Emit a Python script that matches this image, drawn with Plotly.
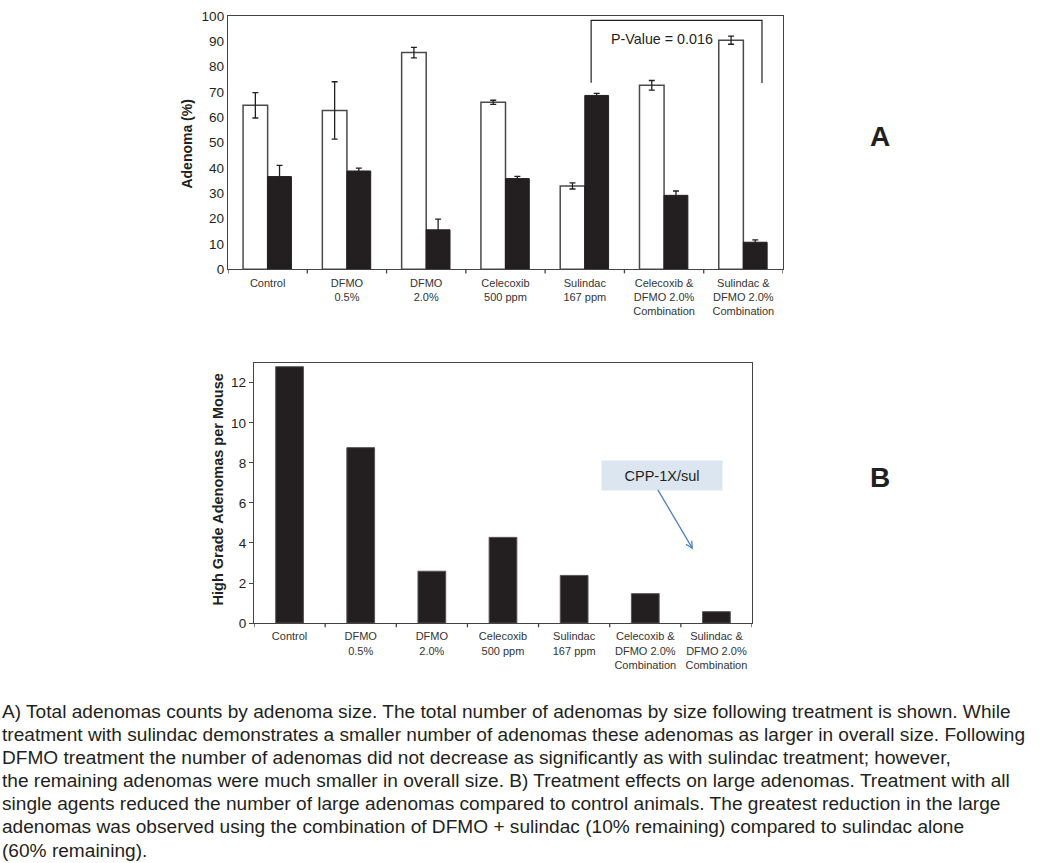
import plotly.graph_objects as go

# ---------------- data ----------------
categories = ["Control", "DFMO<br>0.5%", "DFMO<br>2.0%", "Celecoxib<br>500 ppm",
              "Sulindac<br>167 ppm", "Celecoxib &<br>DFMO 2.0%<br>Combination",
              "Sulindac &<br>DFMO 2.0%<br>Combination"]
cat_ids = list(range(len(categories)))

# Panel A: adenoma (%) by size (white / black series) with error bars
white_vals = [64.7, 62.7, 85.5, 65.9, 32.9, 72.6, 90.4]
white_err = [5.0, 11.3, 2.1, 0.8, 1.2, 1.9, 1.6]
black_vals = [36.6, 38.8, 15.6, 35.8, 68.6, 29.2, 10.7]
black_err = [4.4, 1.1, 4.2, 0.9, 0.8, 1.7, 0.9]

# Panel B: high grade adenomas per mouse
hg_vals = [12.8, 8.76, 2.59, 4.28, 2.38, 1.47, 0.57]

a_yticks = list(range(0, 101, 10))
b_yticks = list(range(0, 13, 2))

pvalue_text = "P-Value = 0.016"
bracket_left, bracket_right = 4.08, 6.235
bracket_top, bracket_left_bottom, bracket_right_bottom = 98.2, 73.6, 73.5

caption_lines = [
    "A) Total adenomas counts by adenoma size. The total number of adenomas by size following treatment is shown. While",
    "treatment with sulindac demonstrates a smaller number of adenomas these adenomas as larger in overall size. Following",
    "DFMO treatment the number of adenomas did not decrease as significantly as with sulindac treatment; however,",
    "the remaining adenomas were much smaller in overall size. B) Treatment effects on large adenomas. Treatment with all",
    "single agents reduced the number of large adenomas compared to control animals. The greatest reduction in the large",
    "adenomas was observed using the combination of DFMO + sulindac (10% remaining) compared to sulindac alone",
    "(60% remaining).",
]

# ---------------- layout helpers ----------------
W, H = 1048, 863
FONT = "Arial, 'Liberation Sans', Helvetica, sans-serif"
INK = "#231f20"
AXC = "#444444"


def px(x):
    return x / W


def py(y):
    return 1 - y / H


fig = go.Figure()

fig.add_trace(go.Bar(
    x=cat_ids, y=white_vals, width=0.31, offset=-0.31,
    marker=dict(color="white", line=dict(color="#4a4a4a", width=1.5)),
    error_y=dict(type="data", array=white_err, color=INK, thickness=1.3, width=3),
    xaxis="x", yaxis="y", showlegend=False,
))
fig.add_trace(go.Bar(
    x=cat_ids, y=black_vals, width=0.30, offset=0.0,
    marker=dict(color=INK, line=dict(color=INK, width=1)),
    error_y=dict(type="data", array=black_err, color=INK, thickness=1.3, width=3),
    xaxis="x", yaxis="y", showlegend=False,
))
fig.add_trace(go.Bar(
    x=cat_ids, y=hg_vals, width=0.39,
    marker=dict(color=INK, line=dict(color="#555555", width=1)),
    xaxis="x2", yaxis="y2", showlegend=False,
))

common_x = dict(
    tickmode="array", tickvals=cat_ids, ticktext=categories,
    range=[-0.5, 6.5], showgrid=False, zeroline=False,
    showline=True, linecolor=AXC, linewidth=1.3, mirror=True,
    ticks="outside", ticklen=3, tickcolor="rgba(0,0,0,0)",
    tickfont=dict(family=FONT, size=11, color="#333333"),
)

fig.update_layout(
    width=W, height=H, autosize=False,
    margin=dict(l=0, r=0, t=0, b=0),
    paper_bgcolor="white", plot_bgcolor="white",
    barmode="overlay",
    font=dict(family=FONT, color=INK),
    xaxis=dict(domain=[px(228), px(783)], anchor="y", **common_x),
    yaxis=dict(domain=[py(267), py(9)], anchor="x", range=[0, 100],
               tickmode="array", tickvals=a_yticks, showgrid=False, zeroline=False,
               showline=True, linecolor=AXC, linewidth=1.3, mirror=True, ticks="",
               tickfont=dict(family=FONT, size=13.5, color=INK)),
    xaxis2=dict(domain=[px(254), px(752)], anchor="y2", **common_x),
    yaxis2=dict(domain=[py(627), py(362)], anchor="x2", range=[0, 13],
                tickmode="array", tickvals=b_yticks, showgrid=False, zeroline=False,
                showline=True, linecolor=AXC, linewidth=1.3, mirror=True,
                ticks="outside", ticklen=4, tickcolor=AXC,
                tickfont=dict(family=FONT, size=13.5, color=INK)),
)

# category boundary ticks on the x axes
shapes = []
for b in [i - 0.5 for i in range(len(categories) + 1)]:
    shapes.append(dict(type="line", xref="x", yref="y domain", x0=b, x1=b,
                       y0=0, y1=-0.016, line=dict(color=AXC, width=1.3)))
    shapes.append(dict(type="line", xref="x2", yref="y2 domain", x0=b, x1=b,
                       y0=0, y1=-0.016, line=dict(color=AXC, width=1.3)))

# significance bracket
shapes.append(dict(
    type="path", xref="x", yref="y",
    path=f"M {bracket_left},{bracket_left_bottom} L {bracket_left},{bracket_top} "
         f"L {bracket_right},{bracket_top} L {bracket_right},{bracket_right_bottom}",
    line=dict(color=INK, width=1.2),
))
fig.update_layout(shapes=shapes)

C = dict(xanchor="center", yanchor="middle", showarrow=False)
annotations = [
    dict(text=pvalue_text, xref="x", yref="y", x=4.97, y=90.8,
         font=dict(family=FONT, size=14.3, color=INK), **C),
    dict(text="<b>Adenoma (%)</b>", xref="paper", yref="paper", x=px(187), y=py(140),
         textangle=-90, font=dict(family=FONT, size=14, color=INK), **C),
    dict(text="<b>High Grade Adenomas per Mouse</b>", xref="paper", yref="paper",
         x=px(218), y=py(491), textangle=-90,
         font=dict(family=FONT, size=14.5, color=INK), **C),
    dict(text="<b>A</b>", xref="paper", yref="paper", x=px(880), y=py(132),
         font=dict(family=FONT, size=28, color=INK), **C),
    dict(text="<b>B</b>", xref="paper", yref="paper", x=px(880), y=py(479),
         font=dict(family=FONT, size=28, color=INK), **C),
    dict(text="CPP-1X/sul", xref="paper", yref="paper", x=px(662), y=py(476.5),
         width=118, height=27, bgcolor="#dce6f1",
         font=dict(family=FONT, size=14.5, color=INK), **C),
    dict(text="", xref="paper", yref="paper", x=px(693), y=py(552),
         axref="pixel", ayref="pixel", ax=-36, ay=-61, showarrow=True,
         arrowhead=5, arrowsize=1, arrowwidth=1.3, arrowcolor="#4f81bd", standoff=0),
]

baseline0 = 718
line_step = 23.5
for i, line in enumerate(caption_lines):
    annotations.append(dict(
        text=line, xref="paper", yref="paper", x=0.0, y=py(baseline0 + i * line_step - 1),
        xanchor="left", yanchor="middle", align="left", showarrow=False,
        font=dict(family=FONT, size=19.1, color=INK),
    ))

fig.update_layout(annotations=annotations)

fig.write_html("out.html", config={"displayModeBar": False},
               post_script="document.body.style.margin='0';document.body.style.padding='0';")
